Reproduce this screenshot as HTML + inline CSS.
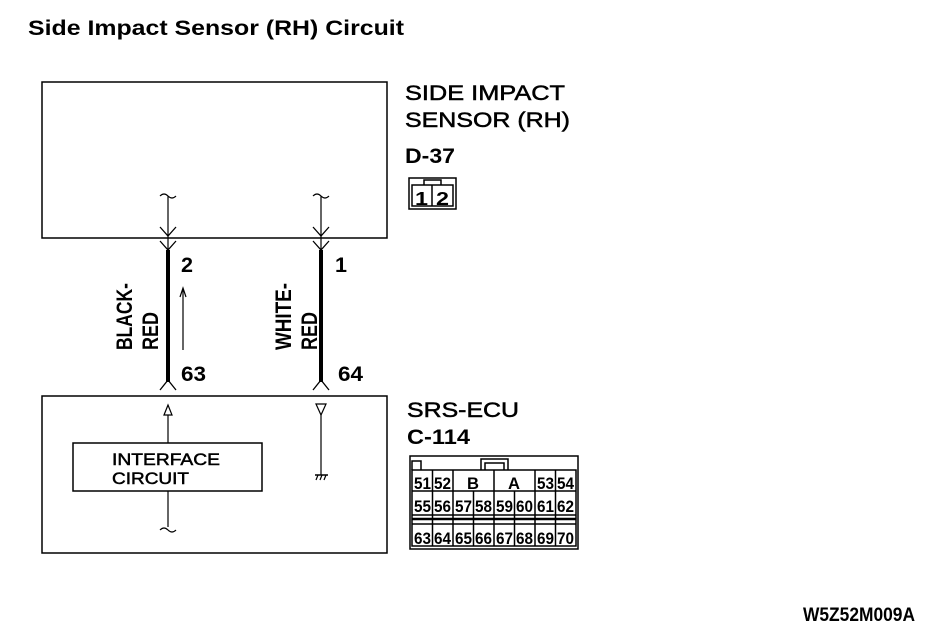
<!DOCTYPE html>
<html><head><meta charset="utf-8"><style>
html,body{margin:0;padding:0;background:#fff;}
svg{display:block;}
text{font-family:"Liberation Sans",sans-serif;fill:#000;}
.b{font-weight:bold;}
.t{stroke:#000;stroke-width:0.5;}
</style></head><body>
<svg width="944" height="634" viewBox="0 0 944 634" xmlns="http://www.w3.org/2000/svg">
<text x="28" y="35" class="b" font-size="21" textLength="376" lengthAdjust="spacingAndGlyphs">Side Impact Sensor (RH) Circuit</text>

<rect x="42" y="82" width="345" height="156" fill="none" stroke="#000" stroke-width="1.5"/>
<rect x="42" y="396" width="345" height="157" fill="none" stroke="#000" stroke-width="1.5"/>

<g stroke="#000" fill="none">
  <path d="M160,196 q4,-4 8,0 q4,4 8,0" stroke-width="1.2"/>
  <line x1="168" y1="196" x2="168" y2="250" stroke-width="1.2"/>
  <path d="M160,227 L168,236 L176,227 M160,241 L168,250 L176,241" stroke-width="1.3"/>
  <line x1="168" y1="250" x2="168" y2="382" stroke-width="4"/>
  <path d="M160,390 L168,380 L176,390" stroke-width="1.3"/>
  <path d="M313,196 q4,-4 8,0 q4,4 8,0" stroke-width="1.2"/>
  <line x1="321" y1="196" x2="321" y2="250" stroke-width="1.2"/>
  <path d="M313,227 L321,236 L329,227 M313,241 L321,250 L329,241" stroke-width="1.3"/>
  <line x1="321" y1="250" x2="321" y2="382" stroke-width="4"/>
  <path d="M313,390 L321,380 L329,390" stroke-width="1.3"/>
  <line x1="183" y1="350" x2="183" y2="290" stroke-width="1.2"/>
  <path d="M180,297 L183,288 L186,297" stroke-width="1.2"/>
  <path d="M164,415 L168,405 L172,415 Z" stroke-width="1.2"/>
  <line x1="168" y1="415" x2="168" y2="443" stroke-width="1.2"/>
  <line x1="168" y1="491" x2="168" y2="527" stroke-width="1.2"/>
  <path d="M160,530 q4,-4 8,0 q4,4 8,0" stroke-width="1.2"/>
  <rect x="73" y="443" width="189" height="48" stroke-width="1.5"/>
  <path d="M316,404 L321,415 L326,404 Z" stroke-width="1.2"/>
  <line x1="321" y1="415" x2="321" y2="475" stroke-width="1.2"/>
  <line x1="315" y1="475" x2="328" y2="475" stroke-width="1.5"/>
  <path d="M316,480 L318,475 M320,480 L322,475 M324,480 L326,475" stroke-width="1.2"/>
</g>

<text x="181" y="272" class="b" font-size="21" textLength="12" lengthAdjust="spacingAndGlyphs">2</text>
<text x="335" y="272" class="b" font-size="21" textLength="12" lengthAdjust="spacingAndGlyphs">1</text>
<text x="181" y="381" class="b" font-size="21" textLength="25" lengthAdjust="spacingAndGlyphs">63</text>
<text x="338" y="381" class="b" font-size="21" textLength="25" lengthAdjust="spacingAndGlyphs">64</text>
<g transform="translate(132,350) rotate(-90)"><text x="0" y="0" class="b" font-size="22" textLength="67" lengthAdjust="spacingAndGlyphs">BLACK-</text></g>
<g transform="translate(158,350) rotate(-90)"><text x="0" y="0" class="b" font-size="22" textLength="38" lengthAdjust="spacingAndGlyphs">RED</text></g>
<g transform="translate(291,350) rotate(-90)"><text x="0" y="0" class="b" font-size="22" textLength="67" lengthAdjust="spacingAndGlyphs">WHITE-</text></g>
<g transform="translate(317,350) rotate(-90)"><text x="0" y="0" class="b" font-size="22" textLength="38" lengthAdjust="spacingAndGlyphs">RED</text></g>

<text x="112" y="465" font-size="17" class="t" textLength="108" lengthAdjust="spacingAndGlyphs">INTERFACE</text>
<text x="112" y="484" font-size="17" class="t" textLength="77" lengthAdjust="spacingAndGlyphs">CIRCUIT</text>

<text x="405" y="100" font-size="21" class="t" textLength="160" lengthAdjust="spacingAndGlyphs">SIDE IMPACT</text>
<text x="405" y="127" font-size="21" class="t" textLength="165" lengthAdjust="spacingAndGlyphs">SENSOR (RH)</text>
<text x="405" y="163" class="b" font-size="21" textLength="50" lengthAdjust="spacingAndGlyphs">D-37</text>
<text x="407" y="417" font-size="21" class="t" textLength="112" lengthAdjust="spacingAndGlyphs">SRS-ECU</text>
<text x="407" y="444" class="b" font-size="21" textLength="63" lengthAdjust="spacingAndGlyphs">C-114</text>

<g stroke="#000" fill="none" stroke-width="1.5">
  <rect x="409" y="178" width="47" height="31"/>
  <rect x="412" y="185" width="41" height="21"/>
  <path d="M424,185 V180 H441 V185"/>
  <line x1="432" y1="185" x2="432" y2="206"/>
</g>
<text x="415" y="205" class="b" font-size="18" textLength="13" lengthAdjust="spacingAndGlyphs">1</text>
<text x="436" y="205" class="b" font-size="18" textLength="13" lengthAdjust="spacingAndGlyphs">2</text>

<g stroke="#000" fill="none" stroke-width="1.5">
  <rect x="410" y="456" width="168" height="93"/>
  <path d="M412,470 V461 H421 V470"/>
  <path d="M481,470 V459 H508 V470 M485,470 V463 H504 V470"/>
  <rect x="412" y="470" width="164" height="76"/>
  <line x1="412" y1="491" x2="576" y2="491"/>
  <line x1="412" y1="515" x2="576" y2="515"/>
  <line x1="412" y1="519" x2="576" y2="519" stroke-width="2.5"/>
  <line x1="412" y1="524" x2="576" y2="524"/>
  <line x1="432.5" y1="470" x2="432.5" y2="546"/>
  <line x1="453" y1="470" x2="453" y2="546"/>
  <line x1="473.5" y1="491" x2="473.5" y2="546"/>
  <line x1="494" y1="470" x2="494" y2="546"/>
  <line x1="514.5" y1="491" x2="514.5" y2="546"/>
  <line x1="535" y1="470" x2="535" y2="546"/>
  <line x1="555.5" y1="470" x2="555.5" y2="546"/>
</g>
<g class="b" font-size="17">
  <text x="414" y="489" textLength="17" lengthAdjust="spacingAndGlyphs">51</text>
  <text x="434" y="489" textLength="17" lengthAdjust="spacingAndGlyphs">52</text>
  <text x="467" y="489" textLength="12" lengthAdjust="spacingAndGlyphs">B</text>
  <text x="508" y="489" textLength="12" lengthAdjust="spacingAndGlyphs">A</text>
  <text x="537" y="489" textLength="17" lengthAdjust="spacingAndGlyphs">53</text>
  <text x="557" y="489" textLength="17" lengthAdjust="spacingAndGlyphs">54</text>
  <text x="414" y="512" textLength="17" lengthAdjust="spacingAndGlyphs">55</text>
  <text x="434" y="512" textLength="17" lengthAdjust="spacingAndGlyphs">56</text>
  <text x="455" y="512" textLength="17" lengthAdjust="spacingAndGlyphs">57</text>
  <text x="475" y="512" textLength="17" lengthAdjust="spacingAndGlyphs">58</text>
  <text x="496" y="512" textLength="17" lengthAdjust="spacingAndGlyphs">59</text>
  <text x="516" y="512" textLength="17" lengthAdjust="spacingAndGlyphs">60</text>
  <text x="537" y="512" textLength="17" lengthAdjust="spacingAndGlyphs">61</text>
  <text x="557" y="512" textLength="17" lengthAdjust="spacingAndGlyphs">62</text>
  <text x="414" y="544" textLength="17" lengthAdjust="spacingAndGlyphs">63</text>
  <text x="434" y="544" textLength="17" lengthAdjust="spacingAndGlyphs">64</text>
  <text x="455" y="544" textLength="17" lengthAdjust="spacingAndGlyphs">65</text>
  <text x="475" y="544" textLength="17" lengthAdjust="spacingAndGlyphs">66</text>
  <text x="496" y="544" textLength="17" lengthAdjust="spacingAndGlyphs">67</text>
  <text x="516" y="544" textLength="17" lengthAdjust="spacingAndGlyphs">68</text>
  <text x="537" y="544" textLength="17" lengthAdjust="spacingAndGlyphs">69</text>
  <text x="557" y="544" textLength="17" lengthAdjust="spacingAndGlyphs">70</text>
</g>

<text x="803" y="621" class="b" font-size="19" textLength="112" lengthAdjust="spacingAndGlyphs">W5Z52M009A</text>
</svg>
</body></html>
